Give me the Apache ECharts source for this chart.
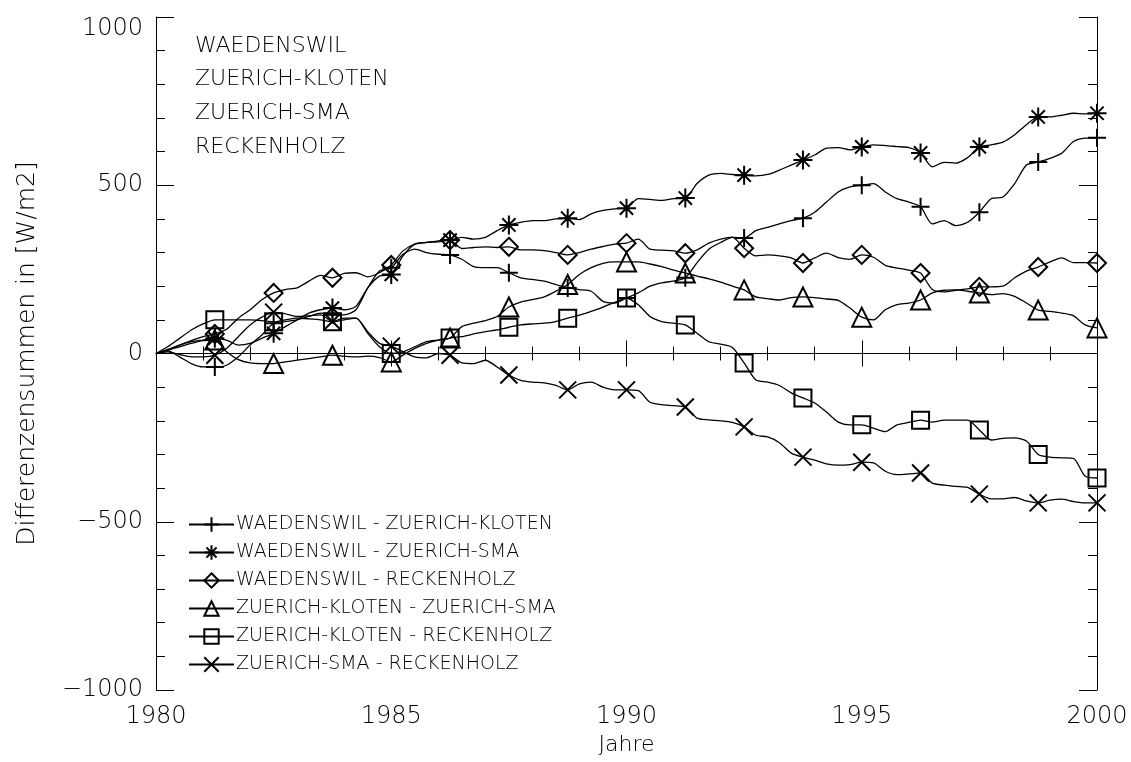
<!DOCTYPE html>
<html>
<head>
<meta charset="utf-8">
<script src="https://cdn.jsdelivr.net/npm/echarts@6.0.0/dist/echarts.min.js"></script>
<style>
  html, body { margin: 0; padding: 0; background: #fff; }
  #chart { width: 1131px; height: 762px; }
</style>
</head>
<body>
<div id="chart"></div>
<script>
// Quarterly sampling grid (years)
const years = [
  1980.00, 1980.25, 1980.50, 1980.75, 1981.00, 1981.25, 1981.50, 1981.75, 1982.00, 1982.25,
  1982.50, 1982.75, 1983.00, 1983.25, 1983.50, 1983.75, 1984.00, 1984.25, 1984.50, 1984.75,
  1985.00, 1985.25, 1985.50, 1985.75, 1986.00, 1986.25, 1986.50, 1986.75, 1987.00, 1987.25,
  1987.50, 1987.75, 1988.00, 1988.25, 1988.50, 1988.75, 1989.00, 1989.25, 1989.50, 1989.75,
  1990.00, 1990.25, 1990.50, 1990.75, 1991.00, 1991.25, 1991.50, 1991.75, 1992.00, 1992.25,
  1992.50, 1992.75, 1993.00, 1993.25, 1993.50, 1993.75, 1994.00, 1994.25, 1994.50, 1994.75,
  1995.00, 1995.25, 1995.50, 1995.75, 1996.00, 1996.25, 1996.50, 1996.75, 1997.00, 1997.25,
  1997.50, 1997.75, 1998.00, 1998.25, 1998.50, 1998.75, 1999.00, 1999.25, 1999.50, 1999.75,
  2000.00
];

// Cumulative difference sums [W/m2]
const waedZk = [
  0, 8, -10, -30, -40,   -40, -35, -10, 25, 55,   90, 95, 100, 110, 120,   115, 115, 130, 195, 245,
  255, 295, 310, 300, 295,   293, 280, 258, 255, 255,   240, 225, 220, 215, 205,   195, 190, 185, 155, 150,
  165, 180, 200, 210, 215,   225, 270, 310, 330, 345,   343, 365, 375, 385, 395,   402, 420, 450, 480, 495,
  500, 505, 480, 460, 450,   436, 385, 395, 380, 390,   420, 460, 465, 505, 560,   569, 580, 595, 630, 640,
  641
];
const waedZsma = [
  0, 10, 25, 35, 40,   45, 40, 25, 30, 45,   60, 80, 100, 120, 130,   135, 130, 140, 195, 230,
  235, 290, 325, 330, 335,   337, 345, 340, 345, 365,   382, 390, 395, 395, 400,   402, 398, 415, 425, 430,
  432, 460, 458, 455, 460,   462, 505, 530, 535, 532,   530, 528, 532, 545, 560,   575, 590, 610, 612, 605,
  614, 620, 618, 615, 612,   596, 555, 568, 566, 582,   614, 620, 628, 650, 680,   703, 703, 708, 714, 712,
  714
];
const waedRh = [
  0, 12, 25, 38, 50,   58, 72, 105, 130, 160,   180, 190, 195, 215, 232,   225, 238, 240, 228, 240,
  263, 305, 325, 330, 332,   337, 312, 315, 317, 315,   317, 308, 308, 306, 300,   293, 300, 310, 318, 325,
  328, 340, 310, 307, 305,   298, 308, 328, 340, 346,   313, 290, 293, 290, 284,   269, 284, 298, 285, 280,
  293, 286, 262, 254, 248,   239, 190, 183, 188, 192,   198, 198, 200, 225, 245,   257, 272, 284, 270, 270,
  269
];
const zkZsma = [
  0, 10, 20, 30, 38,   40, 5, -18, -28, -30,   -30, -25, -20, -15, -10,   -5, -8, -10, -8, -12,
  -25, -5, 15, 30, 40,   46, 80, 90, 98, 110,   138, 153, 160, 168, 185,   205, 235, 255, 268, 272,
  272, 272, 266, 258, 248,   239, 230, 222, 212, 200,   189, 168, 163, 159, 166,   168, 166, 162, 158, 135,
  108, 100, 130, 145, 150,   159, 180, 188, 189, 185,   180, 175, 178, 170, 150,   129, 125, 120, 112, 85,
  76
];
const zkRh = [
  0, 20, 45, 70, 88,   100, 100, 100, 100, 98,   94, 100, 105, 103, 100,   94, 100, 105, 60, 20,
  0, 5, 20, 35, 40,   46, 50, 58, 65, 70,   78, 85, 88, 90, 95,   105, 114, 125, 138, 152,
  165, 145, 110, 95, 90,   85, 60, 35, 28, 18,   -28, -79, -85, -95, -117,   -132, -147, -174, -204, -212,
  -212, -222, -232, -212, -205,   -198, -204, -198, -198, -198,   -227, -257, -252, -251, -260,   -300, -308, -310, -312, -365,
  -370
];
const zsmaRh = [
  0, 5, -3, -10, -10,   -5, 15, 50, 85, 108,   123, 118, 110, 112, 115,   95, 105, 105, 65, 30,
  22, 5, -10, -13, 0,   -5, -28, -30, -20, -40,   -64, -80, -85, -87, -95,   -108, -90, -85, -100, -108,
  -108, -110, -145, -152, -155,   -159, -192, -197, -200, -205,   -218, -243, -248, -265, -296,   -308, -317, -328, -332, -330,
  -323, -325, -350, -360, -358,   -355, -385, -391, -395, -398,   -418, -432, -432, -428, -438,   -444, -436, -433, -440, -444,
  -444
];

const seriesNames = [
  'WAEDENSWIL - ZUERICH-KLOTEN',
  'WAEDENSWIL - ZUERICH-SMA',
  'WAEDENSWIL - RECKENHOLZ',
  'ZUERICH-KLOTEN - ZUERICH-SMA',
  'ZUERICH-KLOTEN - RECKENHOLZ',
  'ZUERICH-SMA - RECKENHOLZ'
];
const seriesValues = [waedZk, waedZsma, waedRh, zkZsma, zkRh, zsmaRh];
const stations = ['WAEDENSWIL', 'ZUERICH-KLOTEN', 'ZUERICH-SMA', 'RECKENHOLZ'];

// Outline symbols: plus, asterisk, diamond, triangle, square, cross
const symbols = [
  'path://M10 0 L10 20 M0 10 L20 10',
  'path://M10 0 L10 20 M0 10 L20 10 M3 3 L17 17 M17 3 L3 17',
  'path://M10 0 L20 10 L10 20 L0 10 Z',
  'path://M10 1 L20 19 L0 19 Z',
  'path://M0 0 L20 0 L20 20 L0 20 Z',
  'path://M0 0 L20 20 M20 0 L0 20'
];
const symbolSizes = [18, 19, 18, 19, 17, 17];
const MARK_EVERY = 5;

const FONT = '"DejaVu Sans", sans-serif';
const WEIGHT = 200;
const INK = '#000';

const series = seriesNames.map((name, k) => ({
  name: name,
  type: 'line',
  data: years.map((y, i) => [y, seriesValues[k][i]]),
  smooth: 0.25,
  symbol: symbols[k],
  symbolSize: (v, p) => (p.dataIndex > 0 && p.dataIndex % MARK_EVERY === 0) ? symbolSizes[k] : 0,
  showSymbol: true,
  showAllSymbol: true,
  lineStyle: { color: INK, width: 1.3 },
  itemStyle: { color: 'rgba(0,0,0,0)', borderColor: INK, borderWidth: 2 },
  emphasis: { disabled: true },
  animation: false,
  z: 3
}));

// Zero reference line
series[0].markLine = {
  silent: true,
  symbol: 'none',
  label: { show: false },
  lineStyle: { color: INK, width: 1, type: 'solid' },
  data: [{ yAxis: 0 }],
  animation: false
};

const tickStyle = { color: INK, width: 1 };
const minus = v => String(v).replace('-', '\u2212');

const chart = echarts.init(document.getElementById('chart'), null, { renderer: 'canvas' });
chart.setOption({
  backgroundColor: '#fff',
  animation: false,
  grid: { left: 156, right: 34, top: 17, bottom: 72, outerBoundsMode: 'none', containLabel: false },
  legend: {
    data: seriesNames,
    orient: 'vertical',
    left: 183,
    top: 510,
    itemWidth: 45,
    itemHeight: 18,
    itemGap: 9,
    selectedMode: false,
    textStyle: { fontFamily: FONT, fontWeight: WEIGHT, fontSize: 19, color: INK, padding: [0, 0, 0, -3] }
  },
  graphic: stations.map((s, i) => ({
    type: 'text',
    left: 195,
    top: 35 + i * 33.6,
    style: { text: s, fontFamily: FONT, fontWeight: WEIGHT, fontSize: 22, fill: INK }
  })),
  xAxis: [
    {
      type: 'value', min: 1980, max: 2000, interval: 5, position: 'bottom',
      axisLine: { lineStyle: tickStyle },
      axisTick: { inside: true, length: 13, lineStyle: tickStyle },
      minorTick: { show: true, splitNumber: 5, length: 7, lineStyle: tickStyle },
      splitLine: { show: false },
      axisLabel: { fontFamily: FONT, fontWeight: WEIGHT, fontSize: 24, color: INK, margin: 15, formatter: v => String(v) },
      name: 'Jahre', nameLocation: 'middle', nameGap: 44,
      nameTextStyle: { fontFamily: FONT, fontWeight: WEIGHT, fontSize: 22, color: INK }
    },
    {
      type: 'value', min: 1980, max: 2000, interval: 5, position: 'top',
      axisLine: { lineStyle: tickStyle },
      axisTick: { inside: true, length: 13, lineStyle: tickStyle },
      minorTick: { show: true, splitNumber: 5, length: 7, lineStyle: tickStyle },
      splitLine: { show: false },
      axisLabel: { show: false }
    }
  ],
  yAxis: [
    {
      type: 'value', min: -1000, max: 1000, interval: 500, position: 'left',
      axisLine: { show: true, lineStyle: tickStyle },
      axisTick: { show: true, inside: true, length: 18, lineStyle: tickStyle },
      minorTick: { show: true, splitNumber: 5, length: 9, lineStyle: tickStyle },
      splitLine: { show: false },
      axisLabel: {
        fontFamily: FONT, fontWeight: WEIGHT, fontSize: 24, color: INK, margin: 13,
        formatter: minus, verticalAlignMaxLabel: 'top'
      },
      name: 'Differenzensummen in [W/m2]', nameLocation: 'middle', nameGap: 116, nameRotate: 90,
      nameTextStyle: { fontFamily: FONT, fontWeight: WEIGHT, fontSize: 25, color: INK }
    },
    {
      type: 'value', min: -1000, max: 1000, interval: 500, position: 'right',
      axisLine: { show: true, lineStyle: tickStyle },
      axisTick: { show: true, inside: true, length: 18, lineStyle: tickStyle },
      minorTick: { show: true, splitNumber: 5, length: 9, lineStyle: tickStyle },
      splitLine: { show: false },
      axisLabel: { show: false }
    }
  ],
  series: series
});
</script>
</body>
</html>
